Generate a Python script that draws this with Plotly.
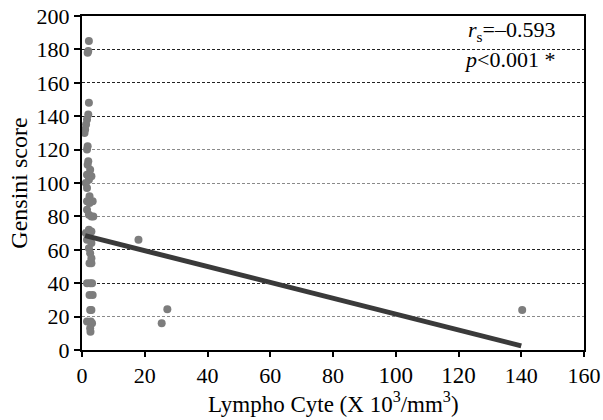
import plotly.graph_objects as go

# Scatter data (Lympho cyte x10^3/mm^3 vs Gensini score)
lympho = [2.2, 2.0, 1.8, 2.2, 2.0, 1.6, 1.3, 1.0, 0.8, 1.8, 1.6, 2.0, 1.8, 2.6, 1.6, 3.0,
          2.2, 1.2, 1.6, 2.4, 1.6, 3.4, 2.4, 1.6, 2.2, 3.0, 3.6, 2.2, 3.0, 1.2, 2.4, 1.6,
          3.0, 2.2, 2.6, 3.0, 2.4, 3.0, 1.6, 2.6, 3.2, 2.4, 3.4, 2.6, 3.0, 1.6, 2.8, 3.2,
          2.6, 2.7, 18.0, 25.4, 27.2, 140.3]
gensini = [185, 179, 178, 148, 141, 138, 135, 132, 130, 122, 120, 113, 111, 108, 105, 104,
           102, 100, 97, 92, 89, 89, 88, 84, 81, 80, 80, 72, 71, 70, 68, 66,
           64, 61, 58, 55, 52, 52, 40, 40, 40, 33, 33, 24, 24, 17, 17, 16,
           13, 11, 66, 16, 24.4, 24]

# Fitted line (endpoints over data range)
fit_x = [1.0, 140.0]
fit_y = [68.5, 2.5]

x_ticks = [0, 20, 40, 60, 80, 100, 120, 140, 160]
x_ticktext = ["0", "20", "40", "60", "80",
              '<span style="font-size:23px">100</span>',
              '<span style="font-size:23px">120</span>',
              "140", "160"]
y_ticks = [0, 20, 40, 60, 80, 100, 120, 140, 160, 180, 200]
dark_grid = [40, 60, 140, 160, 180]
light_grid = [20, 80, 100, 120]

x_title = "Lympho Cyte (X 10<sup>3</sup>/mm<sup>3</sup>)"
y_title = "Gensini score"

font_family = "Liberation Serif"
tick_font = dict(family=font_family, size=22, color="black")

fig = go.Figure()
# dummy traces to activate overlay axes used for the two grid tones
fig.add_trace(go.Scatter(x=[None], y=[None], yaxis="y2", showlegend=False, hoverinfo="skip"))
fig.add_trace(go.Scatter(x=[None], y=[None], yaxis="y3", showlegend=False, hoverinfo="skip"))
fig.add_trace(go.Scatter(x=lympho, y=gensini, mode="markers",
                         marker=dict(color="#7d7d7d", size=8, line=dict(width=0)),
                         showlegend=False))
fig.add_trace(go.Scatter(x=fit_x, y=fit_y, mode="lines",
                         line=dict(color="#3a3a3a", width=5), showlegend=False))

fig.update_layout(
    width=603, height=420,
    margin=dict(l=82, r=19, t=16, b=70, autoexpand=False),
    paper_bgcolor="white", plot_bgcolor="white",
    font=dict(family=font_family, size=22, color="black"),
    xaxis=dict(range=[0, 160], tickvals=x_ticks, ticktext=x_ticktext,
               showgrid=False, zeroline=False, showline=True, linecolor="black",
               linewidth=2, mirror=True, ticks="outside", ticklen=5, tickwidth=2,
               tickcolor="black", tickfont=tick_font, automargin=False),
    yaxis=dict(range=[0, 200], tickvals=y_ticks, showgrid=False, zeroline=False,
               showline=True, linecolor="black", linewidth=2, mirror=True,
               ticks="outside", ticklen=6, tickwidth=2, tickcolor="black",
               tickfont=tick_font, automargin=False,
               title=dict(text=y_title, font=dict(family=font_family, size=24),
                          standoff=2)),
    yaxis2=dict(range=[0, 200], overlaying="y", tickvals=dark_grid,
                showticklabels=False, showgrid=True, gridcolor="#222222",
                griddash="3px,2px", gridwidth=1, zeroline=False, showline=False,
                automargin=False),
    yaxis3=dict(range=[0, 200], overlaying="y", tickvals=light_grid,
                showticklabels=False, showgrid=True, gridcolor="#8a8a8a",
                griddash="3px,2px", gridwidth=1, zeroline=False, showline=False,
                automargin=False),
)

fig.add_annotation(xref="paper", yref="paper", x=0.5, y=-0.158, xanchor="center",
                   yanchor="middle", showarrow=False, text=x_title,
                   font=dict(family=font_family, size=23))
fig.add_annotation(xref="paper", yref="paper", x=0.946, y=0.955, xanchor="right",
                   yanchor="middle", showarrow=False,
                   text="<i>r</i><sub>s</sub>=–0.593",
                   font=dict(family=font_family, size=22))
fig.add_annotation(xref="paper", yref="paper", x=0.946, y=0.870, xanchor="right",
                   yanchor="middle", showarrow=False,
                   text="<i>p</i><0.001 *",
                   font=dict(family=font_family, size=22))

fig.write_html("out.html")
